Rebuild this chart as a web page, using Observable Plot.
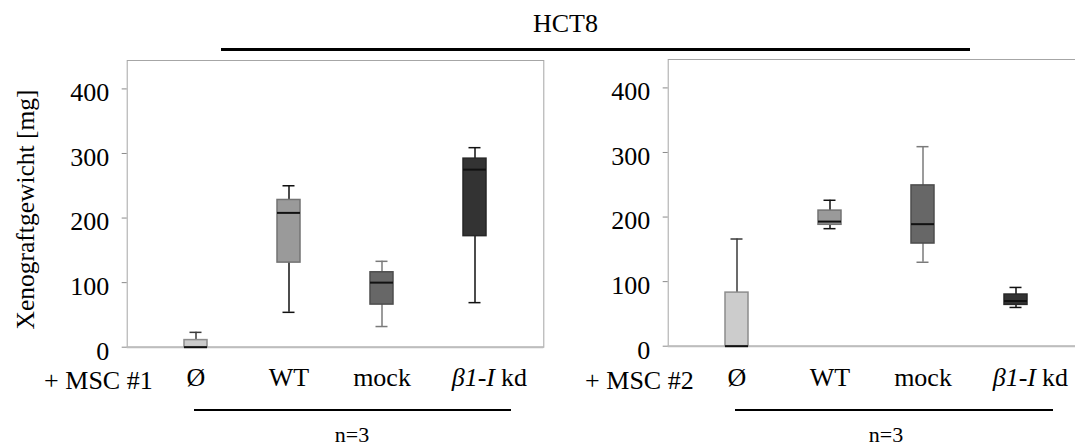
<!DOCTYPE html>
<html><head><meta charset="utf-8">
<script src="https://cdn.jsdelivr.net/npm/d3@7"></script>
<script src="https://cdn.jsdelivr.net/npm/@observablehq/plot@0.6"></script>
<style>
html,body{margin:0;padding:0;background:#fff;overflow:hidden;}
#wrap{position:relative;width:1075px;height:448px;overflow:hidden;font-family:"Liberation Serif",serif;color:#000;background:#fff;}
#wrap > svg, #wrap > div{position:absolute;}
.txt{white-space:nowrap;}
</style></head><body><div id="wrap"></div>
<script>
// ---- data ----
const categories = ["Ø", "WT", "mock", "β1-I kd"];
// + MSC #1
const msc1Min = [0, 54, 32, 69];
const msc1Q1  = [0, 131, 66, 172];
const msc1Med = [0, 208, 100, 275];
const msc1Q3  = [11, 228, 116, 292];
const msc1Max = [23, 250, 133, 309];
// + MSC #2
const msc2Min = [0, 182, 130, 60];
const msc2Q1  = [0, 188, 159, 64];
const msc2Med = [0, 193, 189, 70];
const msc2Q3  = [83, 210, 249, 80];
const msc2Max = [166, 226, 309, 91];

const yTicks = [0, 100, 200, 300, 400];
const panelLabels = ["+ MSC #1", "+ MSC #2"];
const titleText = "HCT8";
const yLabelText = "Xenograftgewicht [mg]";
const nText = "n=3";

// ---- styles ----
const boxFill = ["#cccccc", "#9a9a9a", "#676767", "#333333"];
const boxStroke = ["#8c8c8c", "#737373", "#4d4d4d", "#262626"];
const whiskerStroke = ["#3a3a3a", "#111111", "#7a7a7a", "#111111"];

function rows(mn, q1, md, q3, mx) {
  return categories.map((c, i) => ({cat: c, min: mn[i], q1: q1[i], med: md[i], q3: q3[i], max: mx[i],
    fill: boxFill[i], stroke: boxStroke[i], wstroke: whiskerStroke[i]}));
}

const FONT = "Liberation Serif";
const FS = 26;

function panel(data, label, opts) {
  const marks = [
    Plot.frame({stroke: "#a6a6a6", strokeWidth: 1}),
    Plot.ruleY([0], {stroke: "#bdbdbd", strokeWidth: 2}),
    Plot.axisY({ticks: yTicks, tickSize: 5, fill: "none", stroke: "#8a8a8a", label: null}),
    Plot.axisY({ticks: yTicks, tickSize: 0, tickPadding: 18, dy: 4, fontSize: FS, label: null}),
    Plot.ruleX(data, {x: "cat", y1: "min", y2: "q1", stroke: "wstroke", strokeWidth: 1.5}),
    Plot.ruleX(data, {x: "cat", y1: "q3", y2: "max", stroke: "wstroke", strokeWidth: 1.5}),
    Plot.tickY(data, {x: "cat", y: "max", stroke: "wstroke", strokeWidth: 1.5, insetLeft: 5.5, insetRight: 5.5}),
    Plot.tickY(data, {x: "cat", y: "min", stroke: "wstroke", strokeWidth: 1.5, insetLeft: 5.5, insetRight: 5.5}),
    Plot.barY(data, {x: "cat", y1: "q1", y2: "q3", fill: "fill", stroke: "stroke", strokeWidth: 1.5}),
    Plot.tickY(data, {x: "cat", y: "med", stroke: "#111", strokeWidth: 2}),
    Plot.text(categories.slice(0, 3), {x: d => d, frameAnchor: "bottom", dy: opts.catDy, fontSize: FS}),
    Plot.text(categories.slice(3), {x: d => d, text: d => d.split(" ")[0], frameAnchor: "bottom", textAnchor: "end", dx: 20, dy: opts.catDy, fontSize: FS, fontStyle: "italic"}),
    Plot.text(categories.slice(3), {x: d => d, text: d => d.split(" ")[1], frameAnchor: "bottom", textAnchor: "start", dx: 26, dy: opts.catDy, fontSize: FS}),
    Plot.text([label], {frameAnchor: "bottom-left", textAnchor: "end", dx: 25.5, dy: opts.catDy + 3, fontSize: FS})
  ];
  if (opts.yLabel) {
    marks.push(Plot.text([yLabelText], {frameAnchor: "left", textAnchor: "middle", lineAnchor: "middle", rotate: -90, dx: -101.7, dy: 5.6, fontSize: 25.5}));
  }
  const svg = Plot.plot({
    width: 560,
    height: 448,
    marginLeft: opts.marginLeft,
    marginRight: opts.marginRight,
    marginTop: opts.marginTop,
    marginBottom: opts.marginBottom,
    style: {fontFamily: FONT, fontSize: FS + "px", color: "#000", background: "transparent", overflow: "visible"},
    x: {type: "band", domain: categories, paddingInner: 0.75, paddingOuter: 0.596, align: 0.5, axis: null},
    y: {domain: [0, 444], axis: null},
    color: {type: "identity"},
    marks
  });
  svg.style.left = opts.left + "px";
  svg.style.top = "0px";
  return svg;
}

const wrap = document.getElementById("wrap");
wrap.appendChild(panel(rows(msc1Min, msc1Q1, msc1Med, msc1Q3, msc1Max), panelLabels[0],
  {left: 0, marginLeft: 126.7, marginRight: 16.7, marginTop: 60, marginBottom: 101.3, catDy: 39, yLabel: true}));
wrap.appendChild(panel(rows(msc2Min, msc2Q1, msc2Med, msc2Q3, msc2Max), panelLabels[1],
  {left: 540, marginLeft: 127.7, marginRight: 16, marginTop: 59, marginBottom: 102.3, catDy: 39.5, yLabel: false}));

// ---- annotations (title, bracket lines, n) ----
function div(css, text) {
  const d = document.createElement("div");
  d.className = "txt";
  d.style.cssText = css;
  if (text) d.textContent = text;
  wrap.appendChild(d);
}
div("left:533px;top:11px;font-size:26px;line-height:26px;", titleText);
div("left:221px;top:48px;width:749px;height:2.5px;background:#000;");
div("left:194px;top:409px;width:317px;height:2px;background:#000;");
div("left:735px;top:409px;width:318px;height:2px;background:#000;");
div("left:302px;top:424px;width:100px;text-align:center;font-size:22px;line-height:22px;", nText);
div("left:836px;top:424px;width:100px;text-align:center;font-size:22px;line-height:22px;", nText);
</script></body></html>
